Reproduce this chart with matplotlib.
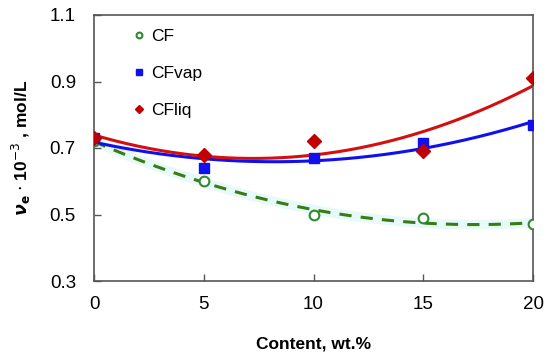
import numpy as np
import matplotlib
matplotlib.use("Agg")
import matplotlib.pyplot as plt

content = [0, 5, 10, 15, 20]
cf = [0.72, 0.60, 0.50, 0.49, 0.47]
cf_vap = [0.73, 0.64, 0.67, 0.715, 0.77]
cf_liq = [0.73, 0.68, 0.72, 0.69, 0.91]

plt.rcParams["font.family"] = ["Liberation Sans", "DejaVu Sans"]
plt.rcParams["xtick.direction"] = "in"
plt.rcParams["ytick.direction"] = "in"

fig = plt.figure(figsize=(5.5, 3.59), dpi=100)
ax = fig.add_axes([94 / 550, 1 - 281 / 359, (533 - 94) / 550, (281 - 15) / 359])

xs = np.linspace(0, 20, 200)
# polynomial trend lines (order 2)
fit_cf = np.polyval(np.polyfit(content, cf, 2), xs)
fit_vap = np.polyval(np.polyfit(content, cf_vap, 2), xs)
fit_liq = np.polyval(np.polyfit(content, cf_liq, 2), xs)

ax.plot(xs, fit_cf, color="#e6fafa", lw=7, solid_capstyle="butt", zorder=1)
ax.plot(xs, fit_cf, color="#3c7a12", lw=2.2, ls=(0, (4, 3)), zorder=2)
ax.plot(xs, fit_vap, color="#1010ee", lw=2.2, zorder=2)
ax.plot(xs, fit_liq, color="#d40f0f", lw=2.2, zorder=2)

ax.plot(content, cf, ls="none", marker="o", ms=7, mfc="white", mec="#2e8b2e",
        mew=1.5, label="CF", zorder=3)
ax.plot(content, cf_vap, ls="none", marker="s", ms=7, color="#1010ee",
        label="CFvap", zorder=3)
ax.plot(content, cf_liq, ls="none", marker="D", ms=7, color="#c00000",
        label="CFliq", zorder=3)

ax.set_xlim(0, 20)
ax.set_ylim(0.3, 1.1)
ax.set_xticks([0, 5, 10, 15, 20])
ax.set_yticks([0.3, 0.5, 0.7, 0.9, 1.1])
ax.set_yticklabels(["0.3", "0.5", "0.7", "0.9", "1.1"])
ax.tick_params(labelsize=13.5, length=5, width=1, color="#555555")
ax.tick_params(axis="y", pad=13)
ax.tick_params(axis="x", pad=11)
for s in ax.spines.values():
    s.set_color("#555555")
    s.set_linewidth(1.2)

ax.set_xlabel("Content, wt.%", fontsize=12.5, fontweight="bold", labelpad=17)
ax.set_ylabel(r"$\boldsymbol{\nu}_\mathbf{e}$ $\cdot$ 10$^{-3}$ , mol/L", fontsize=12.5,
              fontweight="bold", labelpad=12)

leg = ax.legend(loc="upper left", frameon=False, fontsize=12.5, markerscale=0.6,
                handlelength=0.6, handletextpad=0.4, labelspacing=1.25,
                borderaxespad=0.4, bbox_to_anchor=(0.06, 1.0))

fig.savefig("out.png", dpi=100)
